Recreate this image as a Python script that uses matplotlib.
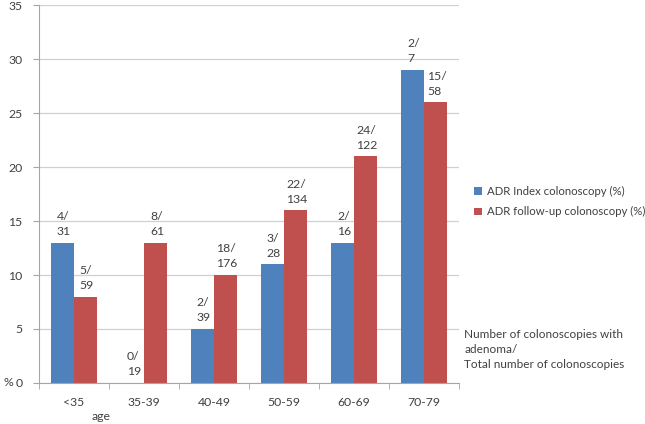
import numpy as np
import matplotlib
matplotlib.use("Agg")
import matplotlib.pyplot as plt

plt.rcParams["font.family"] = ["Lato", "DejaVu Sans"]

ages = ["<35", "35-39", "40-49", "50-59", "60-69", "70-79"]
adr_index = [13, 0, 5, 11, 13, 29]
adr_follow = [8, 13, 10, 16, 21, 26]
index_labels = ["4/\n31", "0/\n19", "2/\n39", "3/\n28", "2/\n16", "2/\n7"]
follow_labels = ["5/\n59", "8/\n61", "18/\n176", "22/\n134", "24/\n122", "15/\n58"]

blue = "#4F81BD"
red = "#C0504D"
txt = "#404040"

fig = plt.figure(figsize=(6.45, 4.24), dpi=100)
ax = fig.add_axes([0.0605, 0.0967, 0.6515, 0.8915])

x = np.arange(len(ages))
w = 0.33
b1 = ax.bar(x - w / 2, adr_index, w, color=blue, label="ADR Index colonoscopy (%)", zorder=2)
b2 = ax.bar(x + w / 2, adr_follow, w, color=red, label="ADR follow-up colonoscopy (%)", zorder=2)

for bars, labs in ((b1, index_labels), (b2, follow_labels)):
    for rect, lab in zip(bars, labs):
        ax.annotate(lab, (rect.get_x() + rect.get_width() / 2, rect.get_height()),
                    xytext=(1, 4), textcoords="offset points", ha="center", va="bottom",
                    multialignment="left", fontsize=8.8, color=txt, linespacing=1.45)

ax.set_xlim(-0.5, len(ages) - 0.5)
ax.set_ylim(0, 35)
ax.set_yticks(range(0, 36, 5))
ax.set_xticks(x)
ax.set_xticklabels(ages)
ax.set_xticks(np.arange(-0.5, len(ages)), minor=True)
ax.tick_params(axis="x", which="major", length=0, pad=10, labelsize=8.8, labelcolor=txt)
ax.tick_params(axis="x", which="minor", length=4, color="#a6a6a6")
ax.tick_params(axis="y", length=4, color="#a6a6a6", labelsize=8.8, labelcolor=txt, pad=8)

ax.grid(axis="y", color="#d0d0d0", linewidth=0.9, zorder=0)
for s in ("top", "right"):
    ax.spines[s].set_visible(False)
for s in ("left", "bottom"):
    ax.spines[s].set_color("#a6a6a6")

fig.text(0.005, 0.0967, "%", fontsize=8.8, color=txt, va="center")
fig.text(0.157, 0.017, "age", fontsize=8.8, color=txt, ha="center", va="center")

fig.legend(loc="upper left", bbox_to_anchor=(0.735, 0.562), frameon=False,
           fontsize=8.2, handlelength=0.7, handleheight=0.7, handletextpad=0.4,
           labelspacing=0.85, labelcolor=txt, borderpad=0, borderaxespad=0)

fig.text(0.72, 0.128, "Number of colonoscopies with\nadenoma/\nTotal number of colonoscopies",
         fontsize=8.5, color=txt, va="bottom", linespacing=1.45)

fig.savefig("out.png", dpi=100)
